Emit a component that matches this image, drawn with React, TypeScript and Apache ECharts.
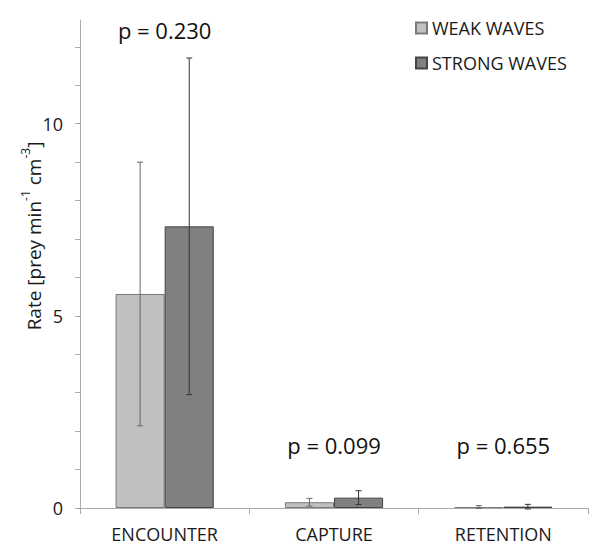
import React, { useEffect, useRef } from "react";
import * as echarts from "echarts";

const categories = ["ENCOUNTER", "CAPTURE", "RETENTION"];
const seriesNames = ["WEAK WAVES", "STRONG WAVES"];
const weakValues = [5.57, 0.15, 0.025];
const strongValues = [7.33, 0.27, 0.035];
const weakErrors = [3.43, 0.1, 0.035];
const strongErrors = [4.38, 0.18, 0.06];
const pLabels = ["p = 0.230", "p = 0.099", "p = 0.655"];
const pLabelLevels = [12.45, 1.65, 1.65];
const yTickLabels = [0, 5, 10];

const FONT = "Open Sans";
const BAR_FRACTION = 0.29;

export default function App() {
  const ref = useRef<HTMLDivElement>(null);
  useEffect(() => {
    if (!ref.current) return;
    const chart = echarts.init(ref.current, undefined, { renderer: "svg" });

    const errorSeries = (vals: number[], errs: number[], side: number, color: string) => ({
      type: "custom",
      silent: true,
      z: 5,
      data: vals.map((v, i) => [i, v - errs[i], v + errs[i]]),
      renderItem: (params: any, api: any) => {
        const idx = api.value(0);
        const lo = api.coord([idx, api.value(1)]);
        const hi = api.coord([idx, api.value(2)]);
        const band = api.size([1, 0])[0];
        const x = lo[0] + side * band * BAR_FRACTION / 2;
        const cap = 3;
        const style = { stroke: color, lineWidth: 1 };
        return {
          type: "group",
          children: [
            { type: "line", shape: { x1: x, y1: lo[1], x2: x, y2: hi[1] }, style },
            { type: "line", shape: { x1: x - cap, y1: hi[1], x2: x + cap, y2: hi[1] }, style },
            { type: "line", shape: { x1: x - cap, y1: lo[1], x2: x + cap, y2: lo[1] }, style },
          ],
        };
      },
    });

    chart.setOption({
      animation: false,
      backgroundColor: "#ffffff",
      textStyle: { fontFamily: FONT },
      grid: { left: 80, top: 20, right: 2, bottom: 39, containLabel: false },
      legend: {
        orient: "vertical",
        left: 410,
        top: 14,
        itemWidth: 11,
        itemHeight: 11,
        itemGap: 17,
        icon: "rect",
        textStyle: { fontFamily: FONT, fontSize: 18, lineHeight: 18, color: "#1a1a1a" },
        data: seriesNames,
      },
      xAxis: {
        type: "category",
        data: categories,
        axisLine: { lineStyle: { color: "#aaaaaa", width: 1 } },
        axisTick: { show: true, length: 6, lineStyle: { color: "#aaaaaa" } },
        axisLabel: { fontFamily: FONT, fontSize: 18, color: "#1a1a1a", margin: 17 },
      },
      yAxis: {
        type: "value",
        min: 0,
        max: 12.7,
        interval: 1,
        splitLine: { show: false },
        axisLine: { show: true, lineStyle: { color: "#aaaaaa", width: 1 } },
        axisTick: { show: true, length: 5, lineStyle: { color: "#aaaaaa" } },
        axisLabel: {
          fontFamily: FONT,
          fontSize: 18,
          color: "#1a1a1a",
          margin: 17,
          showMaxLabel: false,
          formatter: (v: number) => (yTickLabels.includes(v) ? String(v) : ""),
        },
      },
      series: [
        {
          name: seriesNames[0],
          type: "bar",
          data: weakValues,
          barWidth: BAR_FRACTION * 100 + "%",
          barGap: "0%",
          itemStyle: { color: "#c0c0c0", borderColor: "#7a7a7a", borderWidth: 1 },
        },
        {
          name: seriesNames[1],
          type: "bar",
          data: strongValues,
          barWidth: BAR_FRACTION * 100 + "%",
          barGap: "0%",
          itemStyle: { color: "#808080", borderColor: "#444444", borderWidth: 1 },
        },
        errorSeries(weakValues, weakErrors, -1, "#666666"),
        errorSeries(strongValues, strongErrors, 1, "#333333"),
        {
          type: "custom",
          silent: true,
          z: 6,
          data: pLabels.map((t, i) => [i, pLabelLevels[i], t]),
          renderItem: (params: any, api: any) => {
            const i = api.value(0);
            const p = api.coord([i, api.value(1)]);
            return {
              type: "text",
              x: p[0],
              y: p[1],
              style: {
                text: pLabels[i],
                fontFamily: FONT,
                fontSize: 22,
                fill: "#111",
                align: "center",
                verticalAlign: "middle",
              },
            };
          },
        },
      ],
      graphic: [
        {
          type: "text",
          x: 31,
          y: 236,
          rotation: Math.PI / 2,
          style: {
            text: "{a|Rate [prey min}{s|-1}{a| cm}{s|-3}{a|]}",
            align: "center",
            verticalAlign: "middle",
            rich: {
              a: { fontFamily: FONT, fontSize: 19, fill: "#1a1a1a", lineHeight: 24, verticalAlign: "bottom" },
              s: { fontFamily: FONT, fontSize: 12, fill: "#1a1a1a", lineHeight: 24, verticalAlign: "top" },
            },
          },
        },
      ],
    });
    return () => chart.dispose();
  }, []);
  return (
    <div
      ref={ref}
      style={{ position: "absolute", left: 0, top: 0, width: 590, height: 547, background: "#fff" }}
    />
  );
}
